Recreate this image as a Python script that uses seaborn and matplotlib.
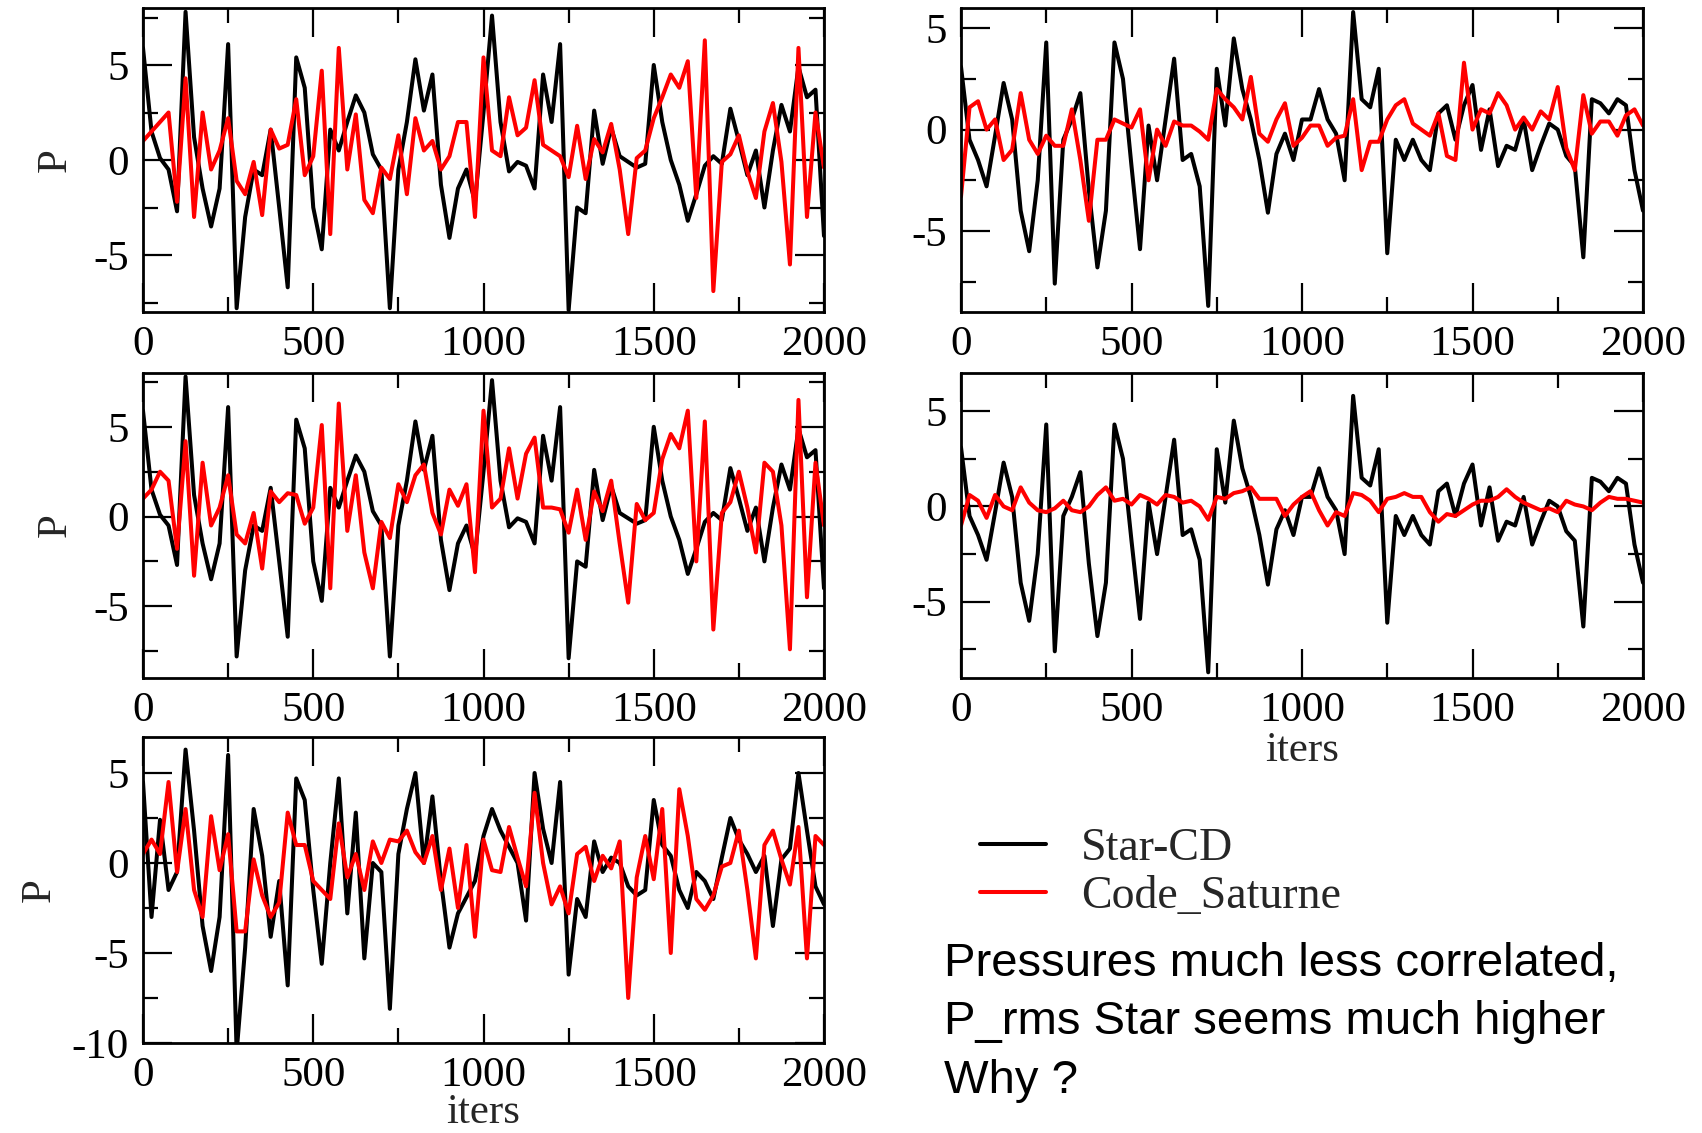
import numpy as np
import matplotlib
matplotlib.use("Agg")
import matplotlib.pyplot as plt
from matplotlib.ticker import MultipleLocator
import seaborn as sns

# ==== Data (one sample every 25 iters) ====
iters = np.arange(0, 2001, 25)

# Star-CD, shared by the two upper-left panels
star_left = [
    5.9, 1.5, 0.1, -0.5, -2.7, 7.8, 1.2, -1.5, -3.5, -1.5,
    6.1, -7.8, -3.0, -0.5, -0.8, 1.6, -2.5, -6.7, 5.4, 3.8,
    -2.5, -4.7, 1.6, 0.5, 2.0, 3.4, 2.5, 0.3, -0.5, -7.8,
    -0.5, 2.0, 5.3, 2.6, 4.5, -1.3, -4.1, -1.5, -0.5, -2.2,
    2.5, 7.6, 2.0, -0.6, -0.1, -0.3, -1.5, 4.5, 2.0, 6.1,
    -7.9, -2.5, -2.8, 2.6, -0.2, 1.7, 0.2, -0.1, -0.4, -0.2,
    5.0, 2.0, 0.0, -1.3, -3.2, -1.8, -0.3, 0.2, -0.2, 2.7,
    1.0, -0.8, 0.5, -2.5, 0.5, 2.9, 1.5, 4.9, 3.3, 3.7,
    -4.0]

saturne_1 = [
    1.0, 1.5, 2.0, 2.5, -2.2, 4.3, -3.0, 2.5, -0.5, 0.5,
    2.2, -1.1, -1.8, -0.1, -2.9, 1.6, 0.6, 0.8, 3.2, -0.8,
    0.2, 4.7, -3.9, 5.9, -0.5, 2.4, -2.1, -2.8, -0.4, -1.0,
    1.3, -1.8, 2.2, 0.5, 1.0, -0.5, 0.2, 2.0, 2.0, -3.0,
    5.4, 0.5, 0.2, 3.3, 1.3, 1.7, 4.2, 0.8, 0.5, 0.2,
    -0.9, 1.8, -1.0, 1.1, 0.4, 1.9, -0.5, -3.9, 0.1, 0.5,
    2.2, 3.3, 4.5, 3.8, 5.2, -2.0, 6.3, -6.9, -0.1, 0.3,
    1.3, -0.6, -2.0, 1.5, 3.0, -0.1, -5.5, 5.9, -3.0, 2.5,
    -0.4]

saturne_3 = [
    1.0, 1.5, 2.5, 2.0, -1.8, 4.2, -3.3, 3.0, -0.5, 0.5,
    2.3, -1.0, -1.5, 0.2, -2.9, 1.4, 0.8, 1.3, 1.2, -0.4,
    0.5, 5.1, -4.0, 6.3, -0.8, 2.3, -2.0, -4.0, -0.3, -1.2,
    1.8, 0.8, 2.3, 2.9, 0.2, -1.0, 1.5, 0.6, 1.8, -3.1,
    5.9, 0.5, 1.0, 3.8, 1.0, 3.5, 4.4, 0.5, 0.5, 0.4,
    -0.9, 1.5, -1.3, 1.4, 0.3, 2.0, -1.5, -4.8, 0.7, -0.2,
    0.2, 3.2, 4.6, 3.8, 5.9, -2.5, 5.3, -6.3, 0.2, 0.8,
    2.5, 0.5, -2.0, 3.0, 2.5, -0.5, -7.4, 6.5, -4.5, 3.0,
    -0.5]

# Star-CD, shared by the two upper-right panels
star_right = [
    3.1, -0.5, -1.5, -2.8, -0.3, 2.3, 0.5, -4.0, -6.0, -2.5,
    4.3, -7.6, -0.5, 0.5, 1.8, -3.0, -6.8, -4.0, 4.3, 2.5,
    -1.8, -5.9, 0.2, -2.5, 0.5, 3.5, -1.5, -1.2, -2.8, -8.7,
    3.0, 0.2, 4.5, 2.0, 0.5, -1.5, -4.1, -1.2, -0.2, -1.5,
    0.5, 0.5, 2.0, 0.5, -0.2, -2.5, 5.8, 1.5, 1.1, 3.0,
    -6.1, -0.5, -1.5, -0.5, -1.5, -2.0, 0.8, 1.2, -0.5, 1.2,
    2.2, -1.0, 1.0, -1.8, -0.8, -1.0, 0.5, -2.0, -0.8, 0.3,
    0.0, -1.3, -1.8, -6.3, 1.5, 1.3, 0.8, 1.5, 1.2, -2.0,
    -4.0]

saturne_2 = [
    -3.3, 1.1, 1.4, 0.0, 0.5, -1.5, -1.0, 1.8, -0.5, -1.2,
    -0.3, -0.8, -0.8, 1.0, -1.5, -4.5, -0.5, -0.5, 0.5, 0.3,
    0.1, 1.0, -2.5, 0.0, -0.8, 0.4, 0.2, 0.2, -0.1, -0.5,
    2.0, 1.5, 1.1, 0.5, 2.6, -0.2, -0.6, 0.5, 1.3, -0.8,
    -0.4, 0.2, 0.2, -0.8, -0.4, -0.3, 1.5, -2.0, -0.6, -0.6,
    0.5, 1.2, 1.5, 0.3, 0.0, -0.3, 0.8, -1.3, -1.5, 3.3,
    0.0, 1.0, 0.8, 1.8, 1.2, 0.0, 0.6, 0.0, 0.9, 0.5,
    2.1, -0.9, -2.0, 1.7, -0.2, 0.4, 0.4, -0.3, 0.7, 1.0,
    0.2]

saturne_4 = [
    -1.0, 0.6, 0.3, -0.6, 0.6, 0.0, -0.2, 1.0, 0.2, -0.2,
    -0.3, -0.1, 0.3, -0.2, -0.3, 0.0, 0.6, 1.0, 0.3, 0.4,
    0.1, 0.6, 0.4, 0.1, 0.6, 0.5, 0.2, 0.3, 0.0, -0.7,
    0.5, 0.4, 0.7, 0.8, 1.0, 0.4, 0.4, 0.4, -0.5, 0.1,
    0.5, 0.8, -0.2, -1.0, -0.3, -0.5, 0.7, 0.6, 0.3, -0.3,
    0.4, 0.5, 0.7, 0.5, 0.5, -0.3, -0.8, -0.4, -0.5, -0.2,
    0.1, 0.3, 0.3, 0.5, 0.9, 0.5, 0.2, 0.0, -0.2, -0.1,
    -0.3, 0.3, 0.1, 0.0, -0.2, 0.2, 0.5, 0.4, 0.4, 0.3,
    0.2]

# bottom panel
star_bottom = [
    4.5, -3.0, 2.4, -1.5, -0.5, 6.3, 1.8, -3.5, -6.0, -3.0,
    6.0, -10.5, -4.7, 3.0, 0.4, -4.1, -1.0, -6.8, 4.7, 3.5,
    -1.5, -5.6, 0.0, 4.7, -2.8, 2.8, -5.3, 0.0, -0.5, -8.1,
    0.5, 3.0, 5.0, 0.0, 3.7, -1.0, -4.7, -2.8, -1.9, -1.0,
    1.5, 3.0, 1.8, 0.9, 0.0, -3.2, 5.0, 1.9, 0.0, 4.5,
    -6.2, -2.0, -3.0, 1.2, -0.5, 0.3, 0.0, -1.3, -1.8, -1.5,
    3.5, 1.0, 0.4, -1.5, -2.5, -0.5, -1.0, -2.0, 0.3, 2.5,
    1.3, 0.5, -0.5, 0.4, -3.5, 0.2, 0.8, 5.0, 1.8, -1.3,
    -2.3]

saturne_5 = [
    0.5, 1.3, 0.5, 4.5, -0.5, 3.0, -1.5, -3.0, 2.6, -0.4,
    1.6, -3.8, -3.8, 0.2, -1.8, -3.0, -2.2, 2.8, 1.0, 1.0,
    -1.0, -1.5, -2.0, 2.2, -0.8, 0.5, -1.5, 1.2, 0.0, 1.3,
    1.2, 1.8, 0.6, 0.0, 1.5, -1.5, 0.8, -2.5, 1.0, -4.1,
    1.3, -0.4, -0.5, 2.0, 0.3, -1.3, 3.9, 0.0, -2.3, -1.3,
    -2.8, 0.5, 0.9, -1.0, 0.4, -0.3, 1.2, -7.5, -0.8, 1.5,
    -0.9, 3.0, -5.0, 4.1, 1.5, -2.0, -2.6, -1.8, -0.2, 0.0,
    1.8, -1.5, -5.3, 1.0, 1.8, 0.2, -1.2, 2.0, -5.3, 1.5,
    1.0]

series_names = ["Star-CD", "Code_Saturne"]
note_lines = ["Pressures much less correlated,",
              "P_rms Star seems much higher",
              "Why ?"]

# ==== Style ====
sns.set_style("ticks")
plt.rcParams["font.family"] = ["Liberation Serif", "DejaVu Serif"]
plt.rcParams["axes.unicode_minus"] = False
FS = 31

W, H = 1702, 1133
fig = plt.figure(figsize=(W / 100, H / 100), dpi=100)

def box(x0, y0, x1, y1):
    # pixel box -> figure fraction
    return [x0 / W, 1 - y1 / H, (x1 - x0) / W, (y1 - y0) / H]

def panel(rect, star, sat, ylim, ylabel_x=None, xlabel_y=None, with_label=False):
    ax = fig.add_axes(rect)
    line_kw = dict(linewidth=2.9, solid_joinstyle="round", solid_capstyle="round")
    sns.lineplot(x=iters, y=star, ax=ax, color="black",
                 label=series_names[0] if with_label else None, legend=False, **line_kw)
    sns.lineplot(x=iters, y=sat, ax=ax, color="#ff0000",
                 label=series_names[1] if with_label else None, legend=False, **line_kw)
    ax.set_xlim(0, 2000)
    ax.set_ylim(*ylim)
    ax.xaxis.set_major_locator(MultipleLocator(500))
    ax.xaxis.set_minor_locator(MultipleLocator(250))
    ax.yaxis.set_major_locator(MultipleLocator(5))
    ax.yaxis.set_minor_locator(MultipleLocator(2.5))
    ax.tick_params(which="both", direction="in", top=True, right=True,
                   width=1.6, labelsize=FS, pad=10, colors="black")
    ax.tick_params(which="major", length=21)
    ax.tick_params(which="minor", length=11)
    for s in ax.spines.values():
        s.set_linewidth(2.0)
        s.set_color("black")
    if ylabel_x is not None:
        ax.set_ylabel("P", fontsize=FS)
        ax.yaxis.label.set_va("center")
        ax.yaxis.set_label_coords(ylabel_x, 0.5)
    else:
        ax.set_ylabel("")
    if xlabel_y is not None:
        ax.set_xlabel("iters", fontsize=FS)
        ax.xaxis.label.set_va("center")
        ax.xaxis.set_label_coords(0.5, xlabel_y)
    else:
        ax.set_xlabel("")
    return ax

panel(box(143, 8, 824, 312), star_left, saturne_1, (-8, 8), ylabel_x=-0.128)
panel(box(961, 8, 1643, 312), star_right, saturne_2, (-9, 6))
panel(box(143, 373, 824, 678), star_left, saturne_3, (-9, 8), ylabel_x=-0.128)
panel(box(961, 373, 1643, 678), star_right, saturne_4, (-9, 7), xlabel_y=-0.24)
ax5 = panel(box(143, 737, 824, 1043), star_bottom, saturne_5, (-10, 7),
            ylabel_x=-0.152, xlabel_y=-0.228, with_label=True)

handles, labels = ax5.get_legend_handles_labels()
fig.legend(handles, labels, loc="upper left",
           bbox_to_anchor=(980 / W, 1 - 828 / H), frameon=False,
           fontsize=33, handlelength=1.45, handletextpad=0.75,
           labelspacing=0.12, borderpad=0, borderaxespad=0)

for line, yc in zip(note_lines, [964, 1022, 1081]):
    fig.text(944 / W, 1 - yc / H, line, fontsize=34, va="center", ha="left",
             family=["Liberation Sans", "DejaVu Sans"], color="black")

fig.savefig("out.png", dpi=100)
